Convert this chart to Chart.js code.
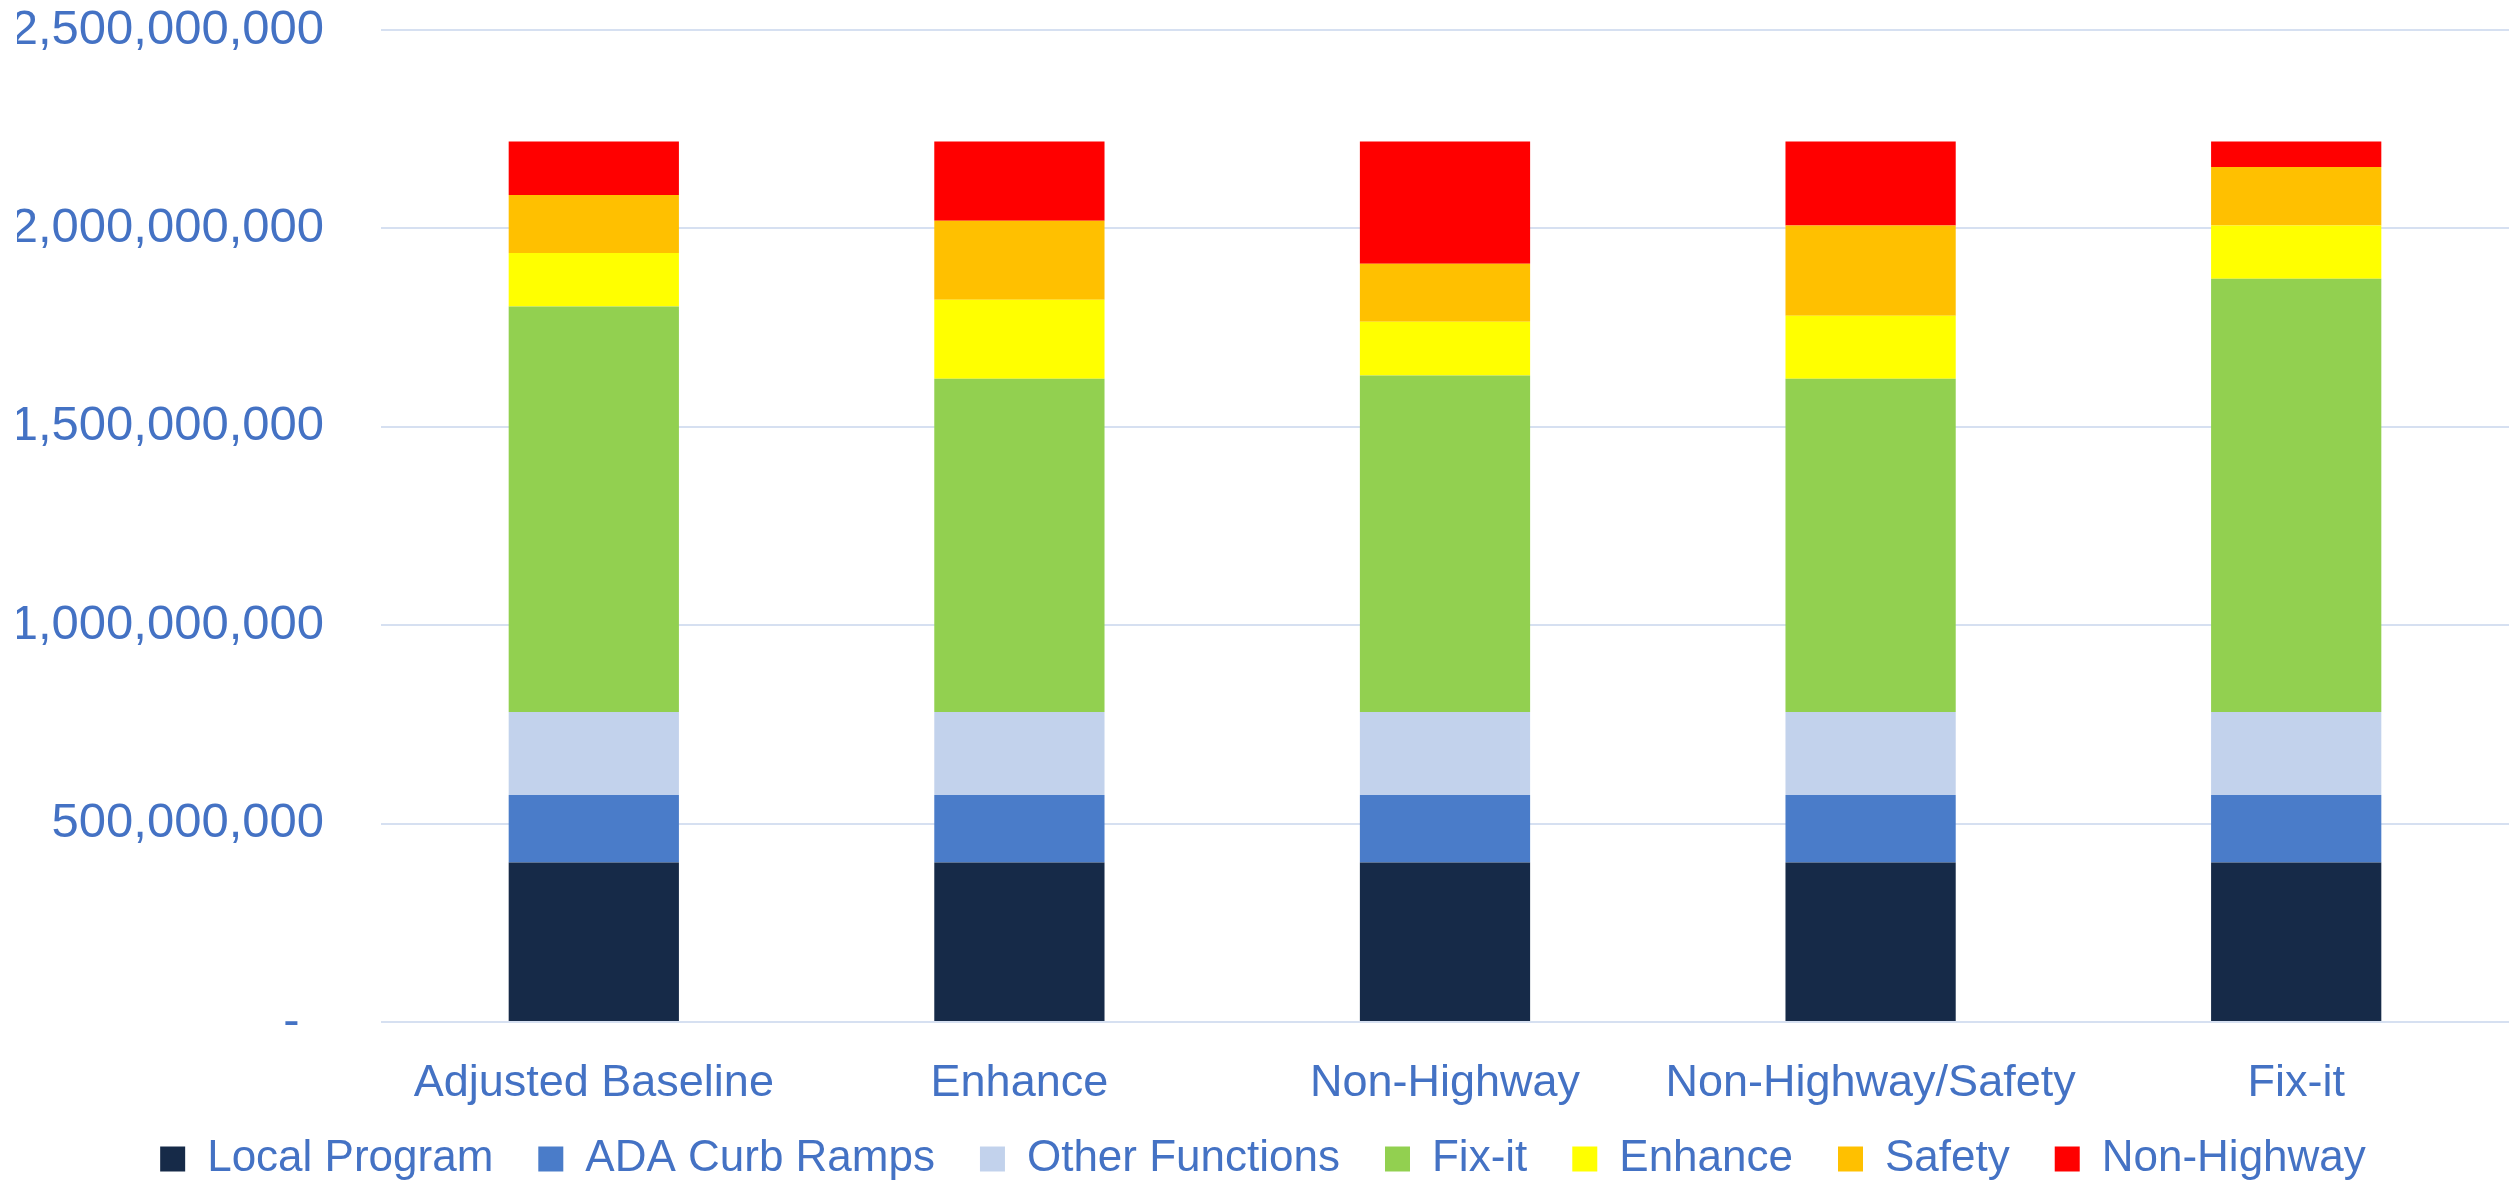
<!DOCTYPE html>
<html>
<head>
<meta charset="utf-8">
<script src="https://cdn.jsdelivr.net/npm/chart.js@4/dist/chart.umd.min.js"></script>
<style>
  html, body { margin:0; padding:0; background:#fff; }
  #wrap { width:2509px; height:1184px; }
</style>
</head>
<body>
<div id="wrap"><canvas id="fundChart"></canvas></div>
<script>
// scenarios (x categories)
const scenarios = ['Adjusted Baseline', 'Enhance', 'Non-Highway', 'Non-Highway/Safety', 'Fix-it'];

// stacked program amounts, bottom to top
const localProgram   = [402e6, 402e6, 402e6, 402e6, 402e6];
const adaCurbRamps   = [170e6, 170e6, 170e6, 170e6, 170e6];
const otherFunctions = [209e6, 209e6, 209e6, 209e6, 209e6];
const fixIt          = [1022e6, 840e6, 848e6, 840e6, 1092e6];
const enhance        = [135e6, 199e6, 136e6, 159e6, 134e6];
const safety         = [146e6, 199e6, 146e6, 227e6, 148e6];
const nonHighway     = [135e6, 200e6, 308e6, 212e6, 64e6];

const yMax = 2500000000;
const yStep = 500000000;

const seriesNames  = ['Local Program','ADA Curb Ramps','Other Functions','Fix-it','Enhance','Safety','Non-Highway'];
const seriesData   = [localProgram, adaCurbRamps, otherFunctions, fixIt, enhance, safety, nonHighway];
const seriesColors = ['#162A48','#4A7CC9','#C2D2EC','#92D050','#FFFF00','#FFC000','#FF0000'];

const txtBlue = '#4472C4';
const fontFam = "'Liberation Sans', Arial, sans-serif";

var datasets = seriesNames.map(function(n, i) {
  return {
    label: n,
    data: seriesData[i],
    backgroundColor: seriesColors[i],
    borderWidth: 0,
    barPercentage: 0.4,
    categoryPercentage: 1.0
  };
});

new Chart(document.getElementById('fundChart'), {
  type: 'bar',
  data: { labels: scenarios, datasets },
  options: {
    responsive: true, maintainAspectRatio: false,
    animation: false,
    layout: { padding: { left: 17, right: 0, top: 30, bottom: -7 } },
    plugins: {
      tooltip: { enabled: false },
      legend: {
        position: 'bottom',
        labels: {
          color: txtBlue,
          font: { family: fontFam, size: 44 },
          boxWidth: 25, boxHeight: 25,
          padding: 23,
          // en space after each name keeps the item spacing wide without a tall legend box
          generateLabels: function(chart) {
            var items = Chart.defaults.plugins.legend.labels.generateLabels(chart);
            items.forEach(function(it, i) { if (i < items.length - 1) it.text = it.text + '\u2002'; });
            return items;
          }
        }
      }
    },
    scales: {
      x: {
        stacked: true,
        grid: { display: false, drawTicks: false },
        border: { display: false },
        ticks: { color: txtBlue, font: { family: fontFam, size: 45 }, padding: 35, maxRotation: 0 },
        afterFit: function(s) { s.paddingLeft = 0; s.paddingRight = 0; s.height = 92; }
      },
      y: {
        stacked: true,
        min: 0, max: yMax,
        grid: { color: '#D6E0F1', lineWidth: 2, drawTicks: false },
        border: { display: false },
        ticks: {
          stepSize: yStep,
          color: txtBlue,
          font: { family: fontFam, size: 49 },
          padding: 57,
          callback: function(v) { return v === 0 ? '-\u2002' : Number(v).toLocaleString('en-US'); }
        },
        afterFit: function(s) { s.width = 364; s.paddingTop = 0; s.paddingBottom = 0; }
      }
    }
  }
});
</script>
</body>
</html>
